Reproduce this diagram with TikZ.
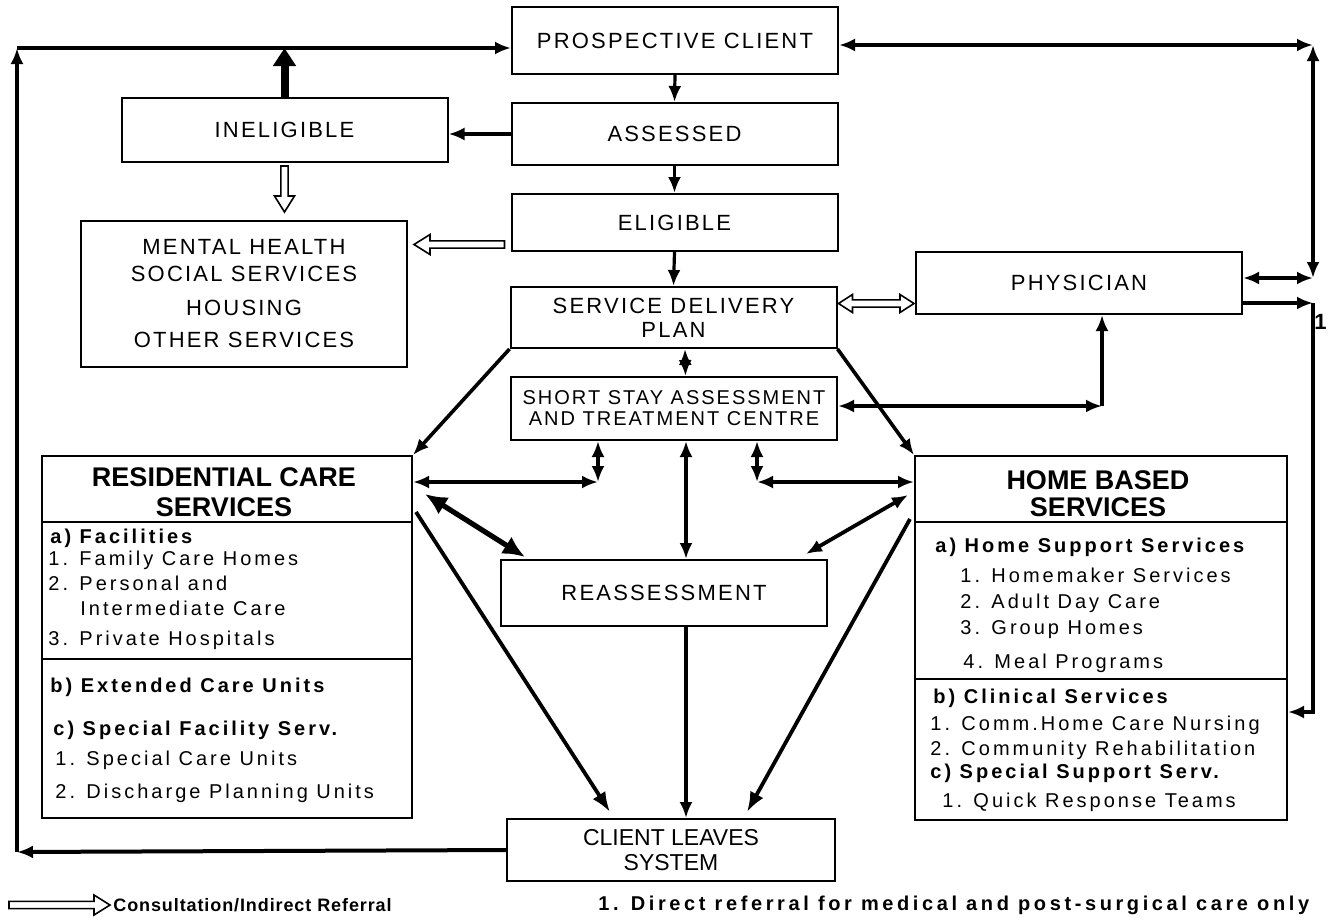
\documentclass[tikz,border=0pt]{standalone}
\usepackage{fontspec}
\setmainfont{Liberation Sans}
\newfontfamily\spacedfont[LetterSpace=10]{Liberation Sans}
\newfontfamily\widefont[LetterSpace=15]{Liberation Sans}
\newfontfamily\notefont[LetterSpace=18]{Liberation Sans}
\newfontfamily\legfont[LetterSpace=5]{Liberation Sans}
\usetikzlibrary{arrows.meta, calc}

% hollow (consultation) arrows, tail #1, tip #2
\newcommand{\openarr}[2]{%
  \draw[hollow] ($(#1)!1.8pt!90:(#2)$)
    -- ($(#2)!8pt!(#1)!1.8pt!-90:(#1)$) -- ($(#2)!8pt!(#1)!5pt!-90:(#1)$)
    -- (#2)
    -- ($(#2)!8pt!(#1)!5pt!90:(#1)$) -- ($(#2)!8pt!(#1)!1.8pt!90:(#1)$)
    -- ($(#1)!1.8pt!-90:(#2)$) -- cycle;}
\newcommand{\openboth}[2]{%
  \draw[hollow] (#1)
    -- ($(#1)!7pt!(#2)!4.5pt!90:(#2)$) -- ($(#1)!7pt!(#2)!1.8pt!90:(#2)$)
    -- ($(#2)!7pt!(#1)!1.8pt!-90:(#1)$) -- ($(#2)!7pt!(#1)!4.5pt!-90:(#1)$)
    -- (#2)
    -- ($(#2)!7pt!(#1)!4.5pt!90:(#1)$) -- ($(#2)!7pt!(#1)!1.8pt!90:(#1)$)
    -- ($(#1)!7pt!(#2)!1.8pt!-90:(#2)$) -- ($(#1)!7pt!(#2)!4.5pt!-90:(#2)$)
    -- cycle;}

\begin{document}
\begin{tikzpicture}[x=0.5pt, y=-0.5pt,
  box/.style={draw, line width=1pt, minimum width=163pt, inner sep=0pt, align=center,
    font=\spacedfont\fontsize{11}{12}\selectfont},
  bigbox/.style={draw, line width=1pt, inner sep=0pt},
  bighead/.style={align=center, inner sep=0pt, font=\bfseries\fontsize{13.5}{15}\selectfont},
  listitem/.style={anchor=west, inner sep=0pt, font=\widefont\fontsize{10}{12}\selectfont},
  listhead/.style={anchor=west, inner sep=0pt, font=\widefont\bfseries\fontsize{10}{12}\selectfont},
  arr/.style={line width=1.6pt, -{Latex[length=8pt,width=6.5pt]}},
  darr/.style={line width=1.6pt, {Latex[length=8pt,width=6.5pt]}-{Latex[length=8pt,width=6.5pt]}},
  fatarr/.style={line width=2.6pt, {Latex[length=11pt,width=10pt]}-{Latex[length=11pt,width=10pt]}},
  looparr/.style={line width=2pt, -{Latex[length=8pt,width=6.5pt]}},
  hollow/.style={draw, line width=0.8pt, fill=white, line join=miter}]
\useasboundingbox (0,0) rectangle (1328,921);

% main column
\node[box, minimum height=33.5pt] (pc) at (675,40.5) {PROSPECTIVE CLIENT};
\node[box, minimum height=31pt] (ass) at (674.5,134) {ASSESSED};
\node[box, minimum height=28.5pt] (eli) at (674.5,222.5) {ELIGIBLE};
\node[box, minimum height=30.5pt] (sdp) at (673.5,317.5) {SERVICE DELIVERY\\PLAN};
\node[box, minimum height=31.5pt, font=\spacedfont\fontsize{10}{10.5}\selectfont] (ss) at (674,408.5)
  {SHORT STAY ASSESSMENT\\AND TREATMENT CENTRE};
\node[box, minimum height=33pt] (reas) at (664,593) {REASSESSMENT};
\node[box, minimum width=164pt, minimum height=31pt, font=\fontsize{11.5}{12.5}\selectfont] (cl) at (671,850)
  {CLIENT LEAVES\\SYSTEM};

% side boxes
\node[box, minimum height=32pt] (inel) at (284.5,130) {INELIGIBLE};
\node[box, minimum height=73pt] (mh) at (244,294)
  {MENTAL HEALTH\\[1.5pt] SOCIAL SERVICES\\[5pt] HOUSING\\[4pt] OTHER SERVICES};
\node[box, minimum height=31pt] (phys) at (1079,283) {PHYSICIAN};

% residential care
\node[bigbox, minimum width=185pt, minimum height=181pt] (res) at (227,637) {};
\draw[line width=1pt] ($(res.north west)+(0,67)$) -- ($(res.north east)+(0,67)$);
\draw[line width=1pt] ($(res.north west)+(0,204)$) -- ($(res.north east)+(0,204)$);
\node[bighead] (resT) at (224,492) {RESIDENTIAL CARE\\SERVICES};
\node[listhead] (r1) at (50,538) {a) Facilities};
\node[listitem] (r2) at (48,560) {1. Family Care Homes};
\node[listitem] (r3) at (48,583) {2. Personal and};
\node[listitem] (r4) at (80,608) {Intermediate Care};
\node[listitem] (r5) at (48,640) {3. Private Hospitals};
\node[listhead] (r6) at (50,687) {b) Extended Care Units};
\node[listhead] (r7) at (53,730) {c) Special Facility Serv.};
\node[listitem] (r8) at (55,760) {1. Special Care Units};
\node[listitem] (r9) at (55,793) {2. Discharge Planning Units};

% home based
\node[bigbox, minimum width=186pt, minimum height=182pt] (home) at (1101,638) {};
\draw[line width=1pt] ($(home.north west)+(0,67)$) -- ($(home.north east)+(0,67)$);
\draw[line width=1pt] ($(home.north west)+(0,224)$) -- ($(home.north east)+(0,224)$);
\node[bighead, font=\bfseries\fontsize{13.5}{13.5}\selectfont] (homeT) at (1098,493.5) {HOME BASED\\SERVICES};
\node[listhead] (h1) at (935,547) {a) Home Support Services};
\node[listitem] (h2) at (960,575) {1. Homemaker Services};
\node[listitem] (h3) at (960,603) {2. Adult Day Care};
\node[listitem] (h4) at (960,630) {3. Group Homes};
\node[listitem] (h5) at (963,663) {4. Meal Programs};
\node[listhead] (h6) at (933,698) {b) Clinical Services};
\node[listitem] (h7) at (930,725) {1. Comm.Home Care Nursing};
\node[listitem] (h8) at (930,750) {2. Community Rehabilitation};
\node[listhead] (h9) at (930,773) {c) Special Support Serv.};
\node[listitem] (h10) at (942,802) {1. Quick Response Teams};

% corners of the outer lines
\coordinate (tl) at (17,48);
\coordinate (bl) at (17,852);
\coordinate (tr) at (1313,45);
\coordinate (mr) at (1313,278);
\coordinate (rr) at (1313,303);
\coordinate (br) at (1313,712);
\coordinate (sc) at (1102,406);
\coordinate (lc) at (598,482);
\coordinate (rc) at (757,482);
\coordinate (mid) at (686,500);

% down the main column
\draw[arr] (pc.south) -- (ass.north);
\draw[arr] (ass.south) -- (eli.north);
\draw[arr] (eli.south) -- (sdp.north);
\draw[darr] ($(sdp.south)+(11.5,0)$) -- ($(ss.north)+(11.5,0)$);
\draw[darr] (ss.south -| mid) -- (reas.north -| mid);
\draw[arr] (reas.south -| mid) -- (cl.north -| mid);

% ineligible
\draw[arr] (ass.west) -- (ass.west -| inel.east);
\draw[line width=4pt, -{Triangle[length=9pt,width=11pt]}] (inel.north) -- (inel.north |- tl);

% outer loop
\draw[looparr] (cl.west) -- (bl);
\draw[looparr] (bl) -- (tl);
\draw[looparr] (tl) -- (pc.west |- tl);

% physician side
\draw[darr] (pc.east |- tr) -- (tr);
\draw[darr] (tr) -- (mr);
\draw[darr] (mr) -- (phys.east |- mr);
\draw[arr] (phys.east |- rr) -- (rr);
\draw[arr] (rr) |- (home.east |- br);
\node[anchor=east, inner sep=0pt, font=\bfseries\fontsize{11}{12}\selectfont] (one) at (1327,322) {1};
\draw[darr] (ss.east |- sc) -- (sc);
\draw[arr] (sc) -- (sc |- phys.south);

% plan to the services
\draw[arr, line width=1.8pt] (sdp.south west) -- (res.north east);
\draw[arr, line width=1.8pt] (sdp.south east) -- (home.north west);
\draw[darr] (ss.south -| lc) -- (lc);
\draw[darr] (lc) -- (res.east |- lc);
\draw[darr] (ss.south -| rc) -- (rc);
\draw[darr] (rc) -- (home.west |- rc);
\draw[fatarr] ($(res.north east)+(12,39)$) -- ($(reas.north west)+(25,-2)$);
\draw[darr, line width=1.9pt] ($(home.north west)+(-6,40)$) -- ($(reas.north east)+(-22,-5)$);
\draw[arr, line width=1.9pt, -{Latex[length=10pt,width=7.5pt]}] ($(res.north east)+(3,57)$) -- ($(cl.north west)+(104,-6)$);
\draw[arr, line width=1.9pt, -{Latex[length=10pt,width=7.5pt]}] ($(home.north west)+(-4,64)$) -- ($(cl.north west)+(241,-6)$);

% consultation arrows
\coordinate (ha) at ($(inel.south)+(0,3)$);
\coordinate (hb) at ($(inel.south |- mh.north)+(0,-8)$);
\openarr{ha}{hb}
\coordinate (hc) at ($(eli.west)+(-6,22)$);
\coordinate (hd) at ($(mh.east |- hc)+(6,0)$);
\openarr{hc}{hd}
\coordinate (he) at ($(sdp.east)+(1,-14)$);
\coordinate (hf) at ($(phys.west |- he)+(-1,0)$);
\openboth{he}{hf}

% legend
\coordinate (la) at (9,905);
\coordinate (lb) at (110,905);
\openarr{la}{lb}
\node[anchor=west, inner sep=0pt, font=\legfont\bfseries\fontsize{9}{11}\selectfont] (legend) at (113,905)
  {Consultation/Indirect Referral};
\node[anchor=west, inner sep=0pt, font=\notefont\bfseries\fontsize{10}{12}\selectfont] (note) at (598,905)
  {1. Direct referral for medical and post-surgical care only};
\end{tikzpicture}
\end{document}
